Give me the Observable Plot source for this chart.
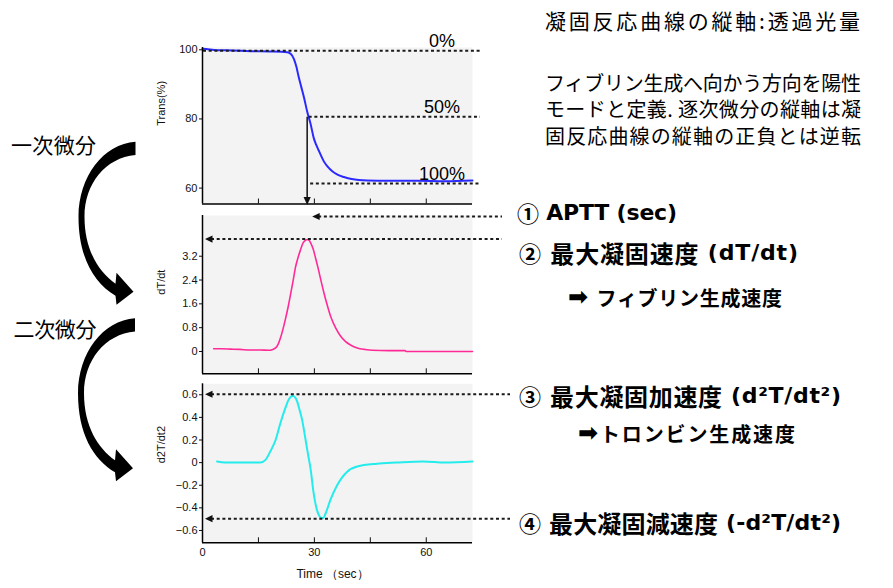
<!DOCTYPE html>
<html><head><meta charset="utf-8">
<script src="https://cdn.jsdelivr.net/npm/d3@7"></script>
<script src="https://cdn.jsdelivr.net/npm/@observablehq/plot@0.6"></script>
<style>
html,body{margin:0;padding:0;background:#fff;overflow:hidden;}
#wrap{position:relative;width:893px;height:588px;}
#wrap svg{position:absolute;left:0;top:0;}
</style></head><body><div id="wrap"></div>
<script>
// ---- data ----
const transTime  = [0, 1, 4, 8, 13, 18, 22.7, 23.7, 24.5, 25.2, 25.8, 26.5, 27.2, 28.1, 29, 29.8, 30.5, 31.2, 32, 32.5, 33.5, 34.8, 36.2, 37.9, 40, 44.2, 50, 57.6, 65, 72.4];
const transValue = [100.3, 100.2, 99.9, 99.8, 99.6, 99.5, 99.3, 98.8, 97.4, 95.0, 92.1, 89.2, 86.3, 82.0, 78.5, 74.6, 72.5, 70.8, 68.9, 67.8, 66.3, 64.9, 63.9, 63.2, 62.6, 62.2, 62.1, 62.1, 62.0, 62.2];

const rateTime  = [3.0, 5, 7.5, 10, 12.9, 15.5, 17.8, 18.8, 19.6, 20.3, 20.9, 21.6, 22.3, 23.0, 23.6, 24.3, 24.9, 25.6, 26.3, 26.8, 27.3, 28.1, 28.6, 29.0, 29.7, 30.3, 31.0, 31.6, 32.5, 33.4, 34.5, 35.7, 37.0, 38.3, 39.8, 41.5, 43.5, 45.5, 50, 54.3, 54.7, 60, 66, 72.4];
const rateValue = [0.09, 0.09, 0.08, 0.07, 0.05, 0.05, 0.04, 0.07, 0.12, 0.25, 0.45, 0.76, 1.12, 1.52, 1.91, 2.38, 2.81, 3.15, 3.42, 3.60, 3.70, 3.76, 3.73, 3.65, 3.43, 3.15, 2.80, 2.47, 2.00, 1.58, 1.13, 0.79, 0.52, 0.34, 0.21, 0.12, 0.07, 0.04, 0.03, 0.03, 0.0, 0.0, 0.0, 0.0];

const accTime  = [3.9, 6, 10, 15.5, 16.9, 18.2, 19.6, 20.9, 22.3, 23.0, 23.6, 24.3, 25.0, 25.4, 26.0, 26.7, 27.4, 28.1, 29.0, 29.8, 30.7, 31.3, 31.8, 32.4, 33.0, 34.3, 36.1, 38.8, 41.5, 46.8, 52, 59.2, 65, 72.4];
const accValue = [0.01, 0.0, 0.0, 0.0, 0.024, 0.10, 0.20, 0.35, 0.49, 0.55, 0.58, 0.59, 0.57, 0.54, 0.47, 0.38, 0.25, 0.11, -0.06, -0.27, -0.42, -0.47, -0.49, -0.49, -0.45, -0.33, -0.20, -0.08, -0.035, -0.01, 0.0, 0.01, 0.0, 0.01];

const levelLabels = ["0%", "50%", "100%"];
const levelValues = [99.6, 80.5, 61.2];
const aptt = 28.2;
const maxRate = 3.76, maxAcc = 0.6, maxDec = -0.5;

const yTicks1 = [60, 80, 100];
const yTicks2 = [0, 0.8, 1.6, 2.4, 3.2];
const yTicks3 = [-0.6, -0.4, -0.2, 0, 0.2, 0.4, 0.6];
const xTickMarks = [15, 30, 45, 60];
const xTickLabels = [0, 30, 60];
const xDomain = [0, 72.4];

const yLabels = ["Trans(%)", "dT/dt", "d2T/dt2"];
const xTitle = "Time （sec）";
const titleText = "凝固反応曲線の縦軸:透過光量";
const noteLines = ["フィブリン生成へ向かう方向を陽性", "モードと定義. 逐次微分の縦軸は凝", "固反応曲線の縦軸の正負とは逆転"];
const stepLabels = ["一次微分", "二次微分"];
const callouts = ["① APTT (sec)", "② 最大凝固速度 (dT/dt)", "③ 最大凝固加速度 (d²T/dt²)", "④ 最大凝固減速度 (-d²T/dt²)"];
const subCallouts = ["➡ フィブリン生成速度", "➡トロンビン生成速度"];

// ---- layout ----
const W = 893, H = 588, L = 202, R = 472;
const wrap = document.getElementById("wrap");
const toRows = (ts, vs) => ts.map((t, i) => ({t, v: vs[i]}));
const fmt = d => d < 0 ? "−" + Math.abs(d) : String(d);

function panel({top, bottom, domain, yTicks, rows, color, sw, label, bottomAxis}) {
  const marks = [
    Plot.frame({fill: "#f3f3f3", stroke: null}),
    Plot.axisY({ticks: yTicks, tickSize: 3, tickPadding: 2, tickFormat: fmt, label: null}),
    Plot.axisX({ticks: xTickMarks, tickSize: -5, tickFormat: () => "", label: null}),
    Plot.line(rows, {x: "t", y: "v", stroke: color, strokeWidth: sw, curve: "monotone-x"}),
    Plot.ruleX([xDomain[0]], {stroke: "#000", strokeWidth: 1.5}),
    Plot.ruleY([domain[0]], {stroke: "#000", strokeWidth: 1.5}),
    Plot.text([label], {frameAnchor: "left", dx: -41, rotate: -90, text: d => d, fontSize: 11})
  ];
  if (bottomAxis) {
    marks.push(Plot.axisX({ticks: xTickLabels, tickSize: 0, tickPadding: 5, tickFormat: fmt, label: null, fontSize: 11}));
    marks.push(Plot.text([xTitle], {frameAnchor: "bottom", dx: -5, dy: 35, text: d => d, fontSize: 12}));
  }
  return Plot.plot({
    width: W, height: H,
    marginLeft: L, marginRight: W - R, marginTop: top, marginBottom: H - bottom,
    x: {domain: xDomain},
    y: {domain},
    style: {background: "transparent", overflow: "visible", fontFamily: "'Liberation Sans', Arial, sans-serif", fontSize: "11px", color: "#111"},
    marks
  });
}

const p1 = panel({top: 47, bottom: 203.5, domain: [55.4, 100.66], yTicks: yTicks1, rows: toRows(transTime, transValue), color: "#2a2aff", sw: 2, label: yLabels[0]});
const p2 = panel({top: 215, bottom: 373.3, domain: [-0.749, 4.567], yTicks: yTicks2, rows: toRows(rateTime, rateValue), color: "#ff2a96", sw: 1.6, label: yLabels[1]});
const p3 = panel({top: 383.3, bottom: 542.3, domain: [-0.709, 0.697], yTicks: yTicks3, rows: toRows(accTime, accValue), color: "#25ecec", sw: 2, label: yLabels[2], bottomAxis: true});
[p1, p2, p3].forEach(p => wrap.appendChild(p));

const lin = s => d3.scaleLinear(s.domain, s.range);
const sx = lin(p1.scale("x"));
const sy1 = lin(p1.scale("y")), sy2 = lin(p2.scale("y")), sy3 = lin(p3.scale("y"));

// ---- overlay annotations ----
const svg = d3.create("svg").attr("width", W).attr("height", H).attr("viewBox", `0 0 ${W} ${H}`)
  .style("font-family", "'Noto Sans CJK JP', sans-serif");
wrap.appendChild(svg.node());

const dotted = (x1, x2, y) => svg.append("line").attr("x1", x1).attr("x2", x2).attr("y1", y).attr("y2", y)
  .attr("stroke", "#1a1a1a").attr("stroke-width", 2).attr("stroke-dasharray", "3,2.7");
const headLeft = (x, y) => svg.append("path").attr("d", `M${x},${y}L${x + 7.5},${y - 3.6}L${x + 7.5},${y + 3.6}Z`).attr("fill", "#111");

// level lines 0% / 50% / 100%
const levelStart = [sx(0) + 1, sx(aptt) + 1.5, sx(aptt) + 3];
levelValues.forEach((v, i) => {
  const y = sy1(v);
  dotted(levelStart[i], R + 8, y);
  svg.append("text").attr("x", 442).attr("y", y - 9.5).attr("text-anchor", "middle").attr("dominant-baseline", "central")
    .attr("font-family", "'Liberation Sans', Arial, sans-serif").attr("font-size", 18).attr("fill", "#000").text(levelLabels[i]);
});

// vertical APTT arrow
{
  const x = sx(aptt), y0 = sy1(levelValues[1]), y1 = sy1.range()[0] + 1.5;
  svg.append("line").attr("x1", x).attr("x2", x).attr("y1", y0).attr("y2", y1 - 7).attr("stroke", "#111").attr("stroke-width", 1.5);
  svg.append("path").attr("d", `M${x},${y1}L${x - 3.6},${y1 - 8}L${x + 3.6},${y1 - 8}Z`).attr("fill", "#111");
}

// callout arrows
const tipL = L + 3;
const arrows = [
  {tip: sx(aptt) + 5, y: sy2.range()[1] + 1.5, end: 502},
  {tip: tipL, y: sy2(maxRate), end: 502},
  {tip: tipL, y: sy3(maxAcc), end: 510},
  {tip: tipL, y: sy3(maxDec), end: 510}
];
arrows.forEach(a => { dotted(a.tip + 6, a.end, a.y); headLeft(a.tip, a.y); });

// texts
const txt = (s, x, y, size, weight, len, family) => {
  const t = svg.append("text").attr("x", x).attr("y", y).attr("dominant-baseline", "central")
    .attr("font-size", size).attr("font-weight", weight).attr("fill", "#000").text(s);
  if (family) t.attr("font-family", family);
  if (len) t.attr("textLength", len).attr("lengthAdjust", "spacing");
  return t;
};
txt(titleText, 545, 20, 21, 400, 315);
noteLines.forEach((s, i) => txt(s, 545, 82 + i * 26.6, 20, 400, 316));
txt(stepLabels[0], 11, 143.5, 21, 400, 85);
txt(stepLabels[1], 13.5, 327.5, 21, 400, 83);

const isCJK = s => /[\u3000-\u9fff\u30a0-\u30ff]/.test(s);
function richText(s, x, y, len, cjkSize, latinSize, arrowSize) {
  const t = svg.append("text").attr("x", x).attr("y", y).attr("dominant-baseline", "central")
    .attr("font-weight", 700).attr("fill", "#000").attr("textLength", len).attr("lengthAdjust", "spacing");
  // split into runs: circled digit / arrow, CJK, latin
  const runs = s.match(/[①②③④]|➡|[\u3000-\u9fff\u30a0-\u30ff]+|[^\u3000-\u9fff\u30a0-\u30ff①②③④➡]+/g);
  runs.forEach(r => {
    const sp = t.append("tspan").text(r);
    if (/[①②③④]/.test(r)) sp.attr("font-family", "'Noto Sans CJK JP'").attr("font-size", latinSize);
    else if (r === "➡") sp.attr("font-family", "'DejaVu Sans'").attr("font-size", arrowSize);
    else if (isCJK(r)) sp.attr("font-family", "'Noto Sans CJK JP'").attr("font-size", cjkSize);
    else sp.attr("font-family", "'DejaVu Sans', sans-serif").attr("font-size", latinSize);
  });
}
const calloutPos = [[517, 211.5, 160], [519, 251.5, 279], [519, 395, 322], [519, 522, 322]];
callouts.forEach((s, i) => richText(s, calloutPos[i][0], calloutPos[i][1], calloutPos[i][2], 24, 22, 22));
richText(subCallouts[0], 568, 296.5, 214, 20, 20, 24);
richText(subCallouts[1], 578, 433, 217, 20, 20, 24);

// curved black arrows (decorative)
function bigArrow(ox, oy) {
  const d = `M${ox},${oy}` +
    `C${ox - 32},${oy + 2} ${ox - 57},${oy + 35} ${ox - 57},${oy + 75}` +
    `C${ox - 57},${oy + 115} ${ox - 42},${oy + 141} ${ox - 20},${oy + 154}` +
    `L${ox - 19},${oy + 163}L${ox - 2},${oy + 150}L${ox - 19},${oy + 131}L${ox - 20},${oy + 142}` +
    `C${ox - 37},${oy + 130} ${ox - 51},${oy + 108} ${ox - 51},${oy + 75}` +
    `C${ox - 51},${oy + 42} ${ox - 30},${oy + 16} ${ox},${oy + 13.3}Z`;
  svg.append("path").attr("d", d).attr("fill", "#000");
}
bigArrow(135.5, 141.7);
bigArrow(135, 318.3);
</script></body></html>
